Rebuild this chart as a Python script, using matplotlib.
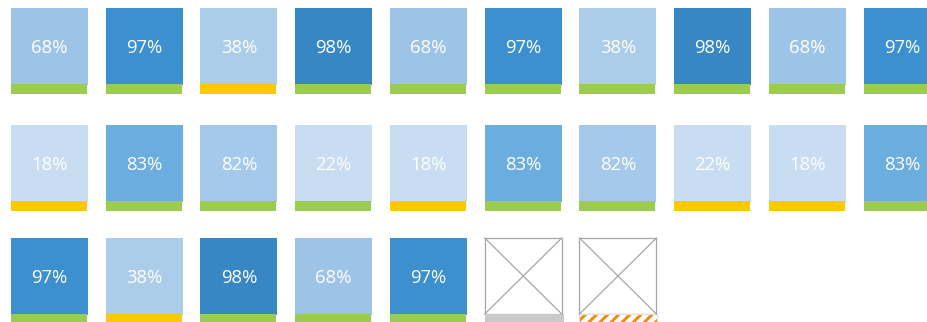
import matplotlib.pyplot as plt
import matplotlib as mpl

# tile values, row by row (None = empty placeholder)
row1 = [68, 97, 38, 98, 68, 97, 38, 98, 68, 97]
row2 = [18, 83, 82, 22, 18, 83, 82, 22, 18, 83]
row3 = [97, 38, 98, 68, 97, None, None]

# status strip under each tile: g=green, y=yellow, n=none(gray), h=hatched
status1 = ['g', 'g', 'y', 'g', 'g', 'g', 'g', 'g', 'g', 'g']
status2 = ['y', 'g', 'g', 'g', 'y', 'g', 'g', 'y', 'y', 'g']
status3 = ['g', 'y', 'g', 'g', 'g', 'n', 'h']

# fill shade for each value
shade = {68: '#9dc3e6', 97: '#3c90cf', 38: '#abcdea', 98: '#3787c4',
         18: '#c8ddf1', 22: '#c8ddf1', 83: '#6badde', 82: '#a4c9eb'}
strip = {'g': '#9bcb50', 'y': '#ffc800', 'n': '#c9c9c9', 'h': 'white'}

W, H = 928, 322
fig = plt.figure(figsize=(W / 100, H / 100), dpi=100)
ax = fig.add_axes([0, 0, 1, 1])
ax.set_xlim(0, W)
ax.set_ylim(H, 0)
ax.axis('off')
mpl.rcParams['hatch.linewidth'] = 2.2

x0, pitch = 11, 94.75
tile_w, tile_h = 77, 77
bar_w, bar_h = 76, 10
row_tops = [8, 125, 238]

rows = [(row1, status1), (row2, status2), (row3, status3)]
for r, (vals, stats) in enumerate(rows):
    top = row_tops[r]
    for c, (v, s) in enumerate(zip(vals, stats)):
        left = x0 + c * pitch
        if v is None:
            ax.bar(left, tile_h - 1, width=tile_w, bottom=top, align='edge',
                   color='white', edgecolor='#a6a6a6', linewidth=0.9)
            ax.plot([left, left + tile_w], [top, top + tile_h - 1], color='#a6a6a6', lw=0.9)
            ax.plot([left, left + tile_w], [top + tile_h - 1, top], color='#a6a6a6', lw=0.9)
        else:
            ax.bar(left, tile_h, width=tile_w, bottom=top, align='edge',
                   color=shade[v], linewidth=0)
            ax.text(left + tile_w / 2, top + tile_h / 2 + 1.5, f'{v}%',
                    ha='center', va='center', color='white',
                    fontsize=13.3, family='Open Sans')
        if s == 'h':
            ax.bar(left, bar_h, width=tile_w + 1, bottom=top + tile_h - 1, align='edge',
                   color='white', edgecolor='#f28c0f', hatch='///', linewidth=0)
            ax.bar(left, bar_h, width=tile_w + 1, bottom=top + tile_h - 1, align='edge',
                   color='none', edgecolor='#e0e0e0', linewidth=0.8)
        else:
            w = tile_w + 2 if s == 'n' else bar_w
            ax.bar(left, bar_h, width=w, bottom=top + tile_h - 1, align='edge',
                   color=strip[s], linewidth=0)

fig.savefig('out.png', dpi=100)
